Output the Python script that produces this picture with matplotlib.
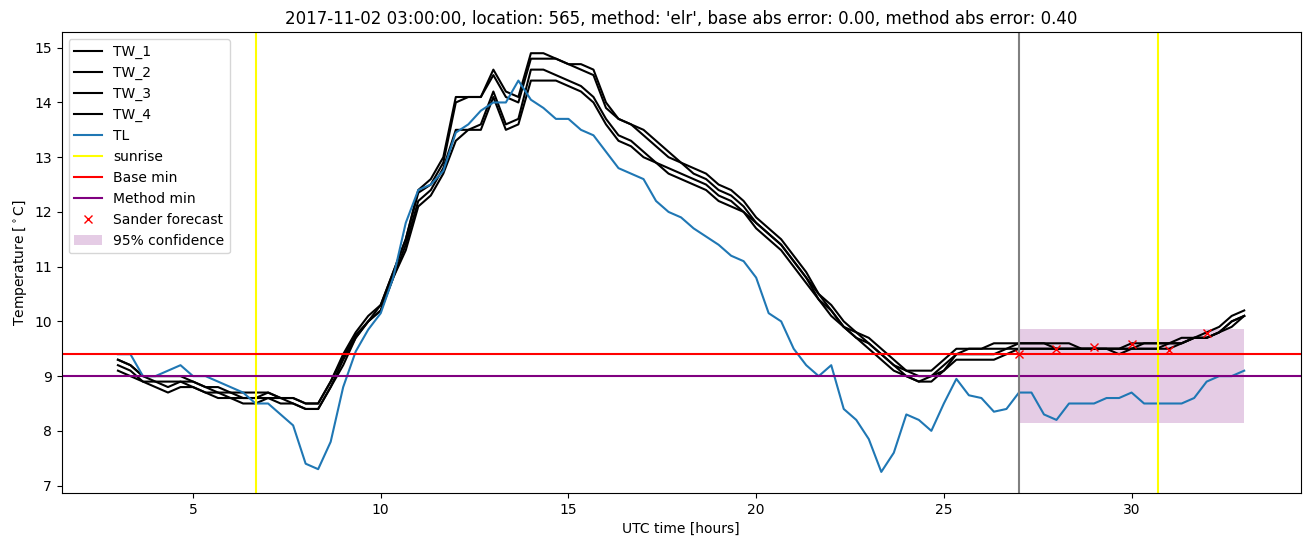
import numpy as np
import matplotlib
matplotlib.use("Agg")
import matplotlib.pyplot as plt

#---------------------------------------------------------------------------
#                               DATA
#---------------------------------------------------------------------------

# 20 minute steps from 03:00 to 33:00 (UTC hours since 2017-11-02 00:00)
hours = 3 + np.arange(91) / 3.0

TL = [9.4, 9.4, 9.0, 9.0, 9.1, 9.2, 9.0, 9.0, 8.9, 8.8,
      8.7, 8.5, 8.5, 8.3, 8.1, 7.4, 7.3, 7.8, 8.8, 9.45,
      9.85, 10.15, 10.8, 11.8, 12.4, 12.5, 12.75, 13.45, 13.6, 13.85,
      14.0, 14.0, 14.4, 14.05, 13.9, 13.7, 13.7, 13.5, 13.4, 13.1,
      12.8, 12.7, 12.6, 12.2, 12.0, 11.9, 11.7, 11.55, 11.4, 11.2,
      11.1, 10.8, 10.15, 10.0, 9.5, 9.2, 9.0, 9.2, 8.4, 8.2,
      7.85, 7.25, 7.6, 8.3, 8.2, 8.0, 8.5, 8.95, 8.65, 8.6,
      8.35, 8.4, 8.7, 8.7, 8.3, 8.2, 8.5, 8.5, 8.5, 8.6,
      8.6, 8.7, 8.5, 8.5, 8.5, 8.5, 8.6, 8.9, 9.0, 9.0,
      9.1]

TW_1 = [9.3, 9.2, 9.0, 9.0, 9.0, 9.0, 8.9, 8.8, 8.8, 8.7,
        8.7, 8.7, 8.7, 8.6, 8.6, 8.5, 8.5, 8.9, 9.4, 9.8,
        10.1, 10.3, 10.9, 11.5, 12.4, 12.6, 13.0, 14.1, 14.1, 14.1,
        14.6, 14.2, 14.1, 14.9, 14.9, 14.8, 14.7, 14.7, 14.6, 14.0,
        13.7, 13.6, 13.5, 13.3, 13.1, 12.9, 12.8, 12.7, 12.5, 12.4,
        12.2, 11.9, 11.7, 11.5, 11.2, 10.9, 10.5, 10.3, 10.0, 9.8,
        9.7, 9.5, 9.3, 9.1, 9.1, 9.1, 9.3, 9.5, 9.5, 9.5,
        9.6, 9.6, 9.6, 9.6, 9.6, 9.6, 9.6, 9.5, 9.5, 9.5,
        9.5, 9.6, 9.6, 9.6, 9.6, 9.7, 9.7, 9.8, 9.9, 10.1,
        10.2]

TW_2 = [9.3, 9.2, 9.0, 8.9, 8.9, 8.9, 8.9, 8.8, 8.7, 8.7,
        8.6, 8.6, 8.7, 8.6, 8.6, 8.5, 8.5, 8.9, 9.35, 9.75,
        10.0, 10.3, 10.9, 11.5, 12.35, 12.5, 12.9, 14.0, 14.1, 14.1,
        14.5, 14.1, 14.0, 14.8, 14.8, 14.8, 14.7, 14.6, 14.5, 13.9,
        13.7, 13.6, 13.4, 13.2, 13.0, 12.9, 12.7, 12.6, 12.4, 12.3,
        12.1, 11.8, 11.6, 11.4, 11.1, 10.8, 10.5, 10.2, 9.9, 9.8,
        9.6, 9.4, 9.2, 9.1, 9.0, 9.0, 9.2, 9.4, 9.5, 9.5,
        9.5, 9.5, 9.6, 9.6, 9.6, 9.5, 9.5, 9.5, 9.5, 9.5,
        9.5, 9.5, 9.6, 9.6, 9.6, 9.6, 9.7, 9.7, 9.8, 10.0,
        10.1]

TW_3 = [9.2, 9.1, 8.9, 8.9, 8.8, 8.9, 8.8, 8.7, 8.7, 8.6,
        8.6, 8.6, 8.6, 8.6, 8.5, 8.4, 8.4, 8.8, 9.3, 9.7,
        10.0, 10.2, 10.8, 11.4, 12.2, 12.4, 12.8, 13.5, 13.5, 13.6,
        14.2, 13.6, 13.7, 14.6, 14.6, 14.5, 14.4, 14.3, 14.1, 13.7,
        13.4, 13.3, 13.1, 12.9, 12.8, 12.7, 12.6, 12.5, 12.3, 12.2,
        12.0, 11.8, 11.6, 11.4, 11.1, 10.8, 10.4, 10.2, 9.9, 9.7,
        9.6, 9.4, 9.2, 9.0, 8.9, 9.0, 9.1, 9.4, 9.4, 9.4,
        9.4, 9.5, 9.5, 9.5, 9.5, 9.5, 9.5, 9.5, 9.5, 9.5,
        9.5, 9.5, 9.5, 9.5, 9.6, 9.6, 9.7, 9.7, 9.8, 10.0,
        10.1]

TW_4 = [9.1, 9.0, 8.9, 8.8, 8.7, 8.8, 8.8, 8.7, 8.6, 8.6,
        8.5, 8.5, 8.6, 8.5, 8.5, 8.4, 8.4, 8.8, 9.2, 9.7,
        10.0, 10.2, 10.8, 11.3, 12.1, 12.3, 12.7, 13.3, 13.5, 13.5,
        14.1, 13.5, 13.6, 14.4, 14.4, 14.4, 14.3, 14.2, 14.0, 13.6,
        13.3, 13.2, 13.0, 12.9, 12.7, 12.6, 12.5, 12.4, 12.2, 12.1,
        12.0, 11.7, 11.5, 11.3, 11.0, 10.7, 10.4, 10.1, 9.9, 9.7,
        9.5, 9.3, 9.1, 9.0, 8.9, 8.9, 9.1, 9.3, 9.3, 9.3,
        9.3, 9.4, 9.5, 9.5, 9.5, 9.5, 9.5, 9.5, 9.5, 9.5,
        9.4, 9.5, 9.5, 9.5, 9.5, 9.6, 9.7, 9.7, 9.8, 9.9,
        10.1]

sunrise = [6.68, 30.71]
forecast_time = 27
base_min = 9.4
method_min = 9.0

sander_hours = [27, 28, 29, 30, 31, 32]
sander_values = [9.41, 9.49, 9.54, 9.58, 9.47, 9.78]

conf_hours = [27, 33]
conf_lower = [8.15, 8.15]
conf_upper = [9.87, 9.87]

title = ("2017-11-02 03:00:00, location: 565, method: 'elr', "
         "base abs error: 0.00, method abs error: 0.40")

#---------------------------------------------------------------------------
#                               PLOT
#---------------------------------------------------------------------------

fig, ax = plt.subplots(figsize=(13.11, 5.47), dpi=100)
fig.subplots_adjust(left=0.047, right=0.992, top=0.941, bottom=0.099)

for name, series in [("TW_1", TW_1), ("TW_2", TW_2), ("TW_3", TW_3), ("TW_4", TW_4)]:
    ax.plot(hours, series, color="black", label=name)
ax.plot(hours, TL, color="C0", label="TL")

ax.axvline(sunrise[0], color="yellow", label="sunrise")
ax.axvline(sunrise[1], color="yellow")
ax.axhline(base_min, color="red", label="Base min")
ax.axhline(method_min, color="purple", label="Method min")
ax.axvline(forecast_time, color="gray")

ax.plot(sander_hours, sander_values, "x", color="red", label="Sander forecast")
ax.fill_between(conf_hours, conf_lower, conf_upper, color="purple", alpha=0.2,
                linewidth=0, label="95% confidence")

ax.set_title(title)
ax.set_xlabel("UTC time [hours]")
ax.set_ylabel(r"Temperature [$^\circ$C]")
ax.legend(loc="upper left")

plt.savefig("out.png", dpi=100)
plt.close()
